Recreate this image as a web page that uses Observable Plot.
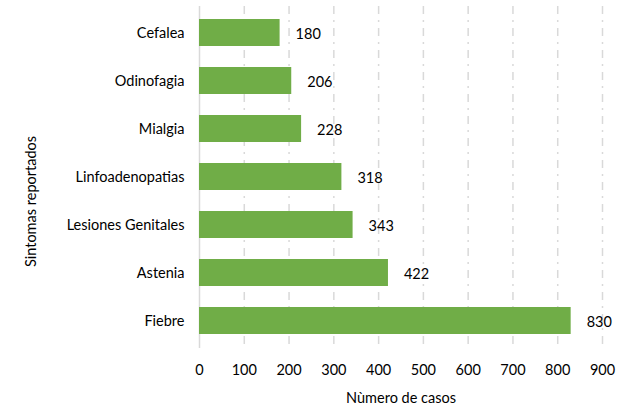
<!DOCTYPE html>
<html>
<head>
<meta charset="utf-8">
<script src="https://cdn.jsdelivr.net/npm/d3@7"></script>
<script src="https://cdn.jsdelivr.net/npm/@observablehq/plot@0.6"></script>
<style>
  html, body { margin: 0; padding: 0; background: #fff; }
  #chart { width: 620px; height: 406px; }
</style>
</head>
<body>
<div id="chart"></div>
<script>
const symptoms = ["Cefalea", "Odinofagia", "Mialgia", "Linfoadenopatias", "Lesiones Genitales", "Astenia", "Fiebre"];
const cases = [180, 206, 228, 318, 343, 422, 830];
const xTicks = [0, 100, 200, 300, 400, 500, 600, 700, 800, 900];

const data = symptoms.map((s, i) => ({symptom: s, value: cases[i]}));

const font = "Lato, 'Open Sans', sans-serif";
const fs = 14.5;

const chart = Plot.plot({
  width: 620,
  height: 406,
  marginLeft: 199,
  marginRight: 18,
  marginTop: 6,
  marginBottom: 58,
  style: {fontFamily: font, fontSize: fs + "px", color: "#000", background: "#fff"},
  x: {domain: [0, 900], ticks: xTicks, label: null},
  y: {domain: symptoms, paddingInner: 0.43, paddingOuter: 0.215, label: null},
  marks: [
    Plot.ruleX(xTicks.filter(d => d > 0), {stroke: "#d9d9d9", strokeWidth: 1.5, strokeDasharray: "8,6,2,6"}),
    Plot.ruleX([0], {stroke: "#d9d9d9", strokeWidth: 1.5}),
    Plot.barX(data, {x: "value", y: "symptom", fill: "#70AD47"}),
    Plot.text(data, {x: "value", y: "symptom", text: d => String(d.value), textAnchor: "start", dx: 15.5, dy: 1, fill: "#000", fontSize: fs}),
    Plot.axisX({ticks: xTicks, tickSize: 0, tickPadding: 16, label: null, fontSize: fs, fill: "#000"}),
    Plot.axisY({tickSize: 0, tickPadding: 15, label: null, fontSize: fs, fill: "#000"}),
    Plot.text(["Nùmero de casos"], {frameAnchor: "bottom", dy: 54, fontSize: fs, fill: "#000"}),
    Plot.text(["Sintomas reportados"], {frameAnchor: "left", textAnchor: "middle", dx: -168, dy: 24, rotate: -90, fontSize: fs, fill: "#000"})
  ]
});
document.getElementById("chart").appendChild(chart);
</script>
</body>
</html>
